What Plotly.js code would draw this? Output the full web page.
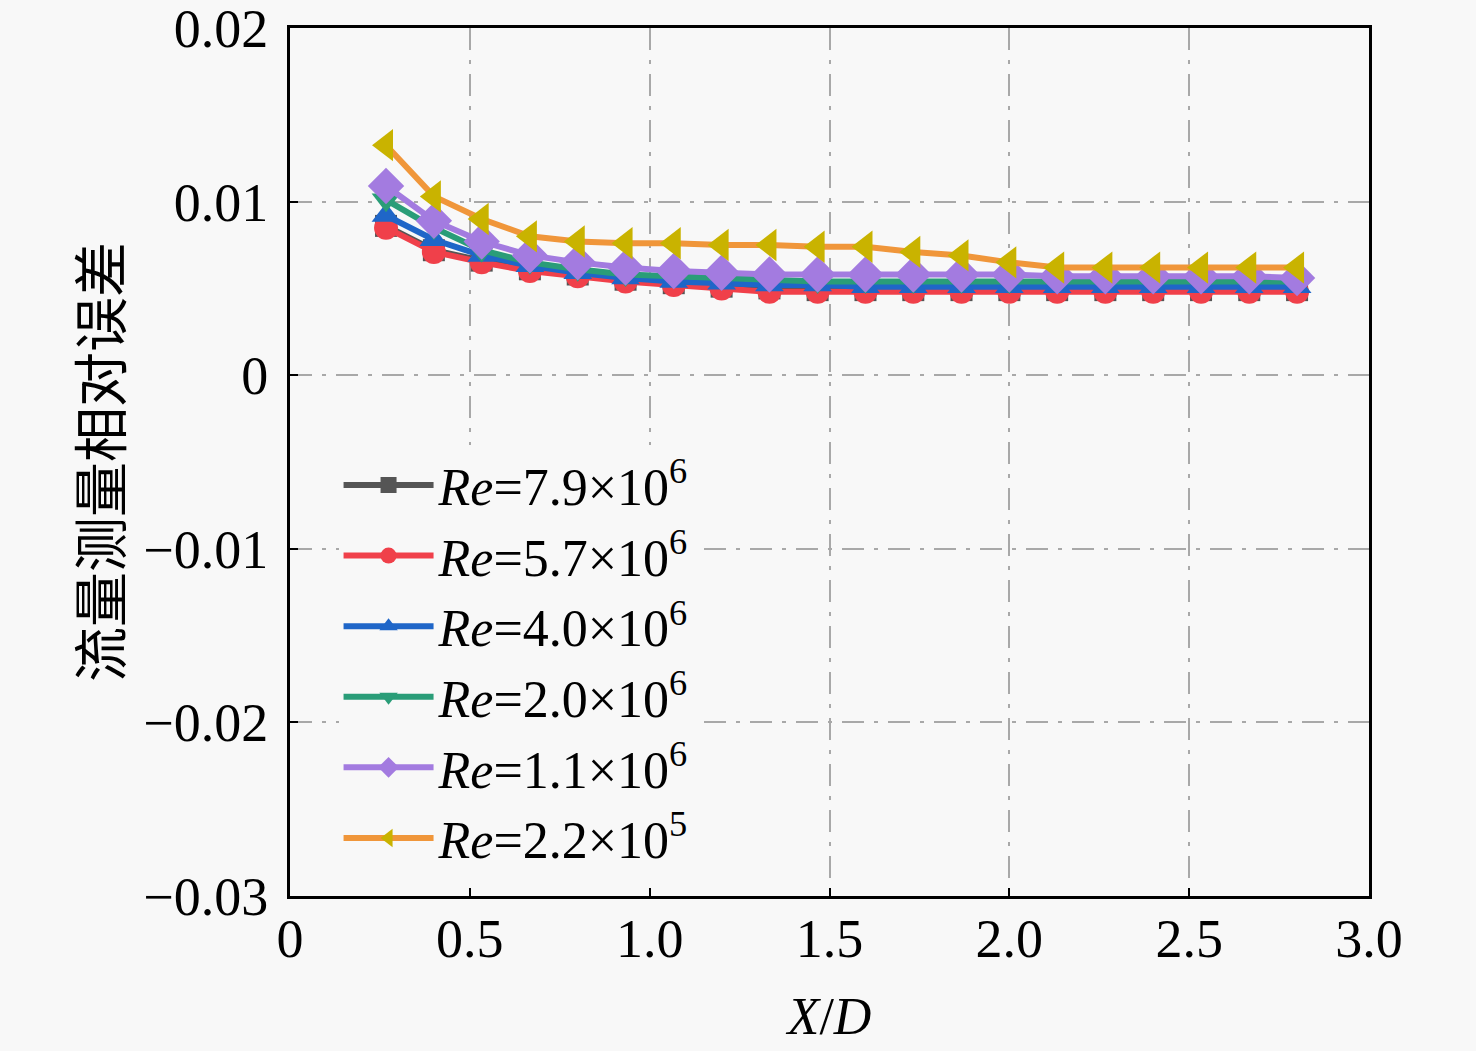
<!DOCTYPE html>
<html>
<head>
<meta charset="utf-8">
<script src="https://cdn.plot.ly/plotly-3.0.1.min.js"></script>
<style>body{margin:0;background:#f8f8f8;} #chart{width:1476px;height:1051px;}</style>
</head>
<body>
<div id="chart"></div>
<script>
// X/D positions of the measurement points
var xd = [0.267, 0.4, 0.533, 0.667, 0.8, 0.933, 1.067, 1.2, 1.333, 1.467,
          1.6, 1.733, 1.867, 2.0, 2.133, 2.267, 2.4, 2.533, 2.667, 2.8];

var re79 = [0.0086, 0.0072, 0.0066, 0.0061, 0.0058, 0.0055, 0.0053, 0.0051, 0.0050, 0.0049,
            0.0049, 0.0049, 0.0049, 0.0049, 0.0049, 0.0049, 0.0049, 0.0049, 0.0049, 0.0049];
var re57 = [0.0085, 0.0071, 0.0065, 0.0060, 0.0057, 0.0054, 0.0052, 0.0050, 0.0048, 0.0048,
            0.0048, 0.0048, 0.0048, 0.0048, 0.0048, 0.0048, 0.0048, 0.0048, 0.0048, 0.0048];
var re40 = [0.0092, 0.0078, 0.0069, 0.0063, 0.0059, 0.0056, 0.0054, 0.0053, 0.0052, 0.0052,
            0.0051, 0.0051, 0.0051, 0.0051, 0.0051, 0.0051, 0.0051, 0.0051, 0.0051, 0.0051];
var re20 = [0.0101, 0.0085, 0.0072, 0.0065, 0.0061, 0.0058, 0.0057, 0.0056, 0.0055, 0.0054,
            0.0054, 0.0054, 0.0054, 0.0054, 0.0054, 0.0054, 0.0054, 0.0054, 0.0054, 0.0054];
var re11 = [0.0109, 0.0089, 0.0077, 0.0069, 0.0065, 0.0062, 0.0060, 0.0059, 0.0058, 0.0058,
            0.0058, 0.0058, 0.0058, 0.0058, 0.0057, 0.0057, 0.0057, 0.0057, 0.0057, 0.0056];
var re22 = [0.01325, 0.0103, 0.0090, 0.0080, 0.0077, 0.0076, 0.0076, 0.0075, 0.0075, 0.0074,
            0.0074, 0.0071, 0.0069, 0.0065, 0.0062, 0.0062, 0.0062, 0.0062, 0.0062, 0.0062];

var names = ['<i>Re</i>=7.9×10<sup>6</sup>', '<i>Re</i>=5.7×10<sup>6</sup>', '<i>Re</i>=4.0×10<sup>6</sup>',
             '<i>Re</i>=2.0×10<sup>6</sup>', '<i>Re</i>=1.1×10<sup>6</sup>', '<i>Re</i>=2.2×10<sup>5</sup>'];

var xTicks = [0, 0.5, 1.0, 1.5, 2.0, 2.5, 3.0];
var xTickText = ['0', '0.5', '1.0', '1.5', '2.0', '2.5', '3.0'];
var yTicks = [-0.03, -0.02, -0.01, 0, 0.01, 0.02];
var yTickText = ['\u22120.03', '\u22120.02', '\u22120.01', '0', '0.01', '0.02'];

var series = [re79, re57, re40, re20, re11, re22];
var lineCols = ['#555555', '#f0404a', '#1f66c8', '#2a9d78', '#a37be0', '#f0963a'];
var markCols = ['#555555', '#f0404a', '#1f66c8', '#2a9d78', '#a37be0', '#c9b300'];
var symbols = ['square', 'circle', 'triangle-up', 'triangle-down', 'diamond', 'triangle-left'];
var sizes = [22, 24, 25, 25, 28, 28];

var data = series.map(function(ys, i){
  return {
    x: xd, y: ys, name: names[i],
    type: 'scatter', mode: 'lines+markers',
    line: {color: lineCols[i], width: 6},
    marker: {color: markCols[i], symbol: symbols[i], size: sizes[i]}
  };
});

var serif = '"Liberation Serif", "Times New Roman", serif';
var gridDash = '22px,10px,4px,10px';

var layout = {
  width: 1476, height: 1051,
  paper_bgcolor: '#f8f8f8', plot_bgcolor: '#f8f8f8',
  font: {family: serif, size: 54, color: '#000'},
  margin: {l: 290, r: 107, t: 28, b: 155, pad: 0},
  showlegend: true,
  legend: {
    x: 0.045, y: 0.52, xanchor: 'left', yanchor: 'top',
    bgcolor: '#f8f8f8', borderwidth: 0,
    font: {family: serif, size: 52, color: '#000'},
    itemwidth: 90
  },
  xaxis: {
    range: [0, 3.0], tickvals: xTicks, ticktext: xTickText,
    ticks: 'inside', ticklen: 8, tickwidth: 2, tickcolor: '#000',
    showline: true, linecolor: '#000', linewidth: 3, mirror: true,
    showgrid: true, gridcolor: '#a8a8a8', gridwidth: 2, griddash: gridDash,
    zeroline: false,
    tickfont: {family: serif, size: 54},
    ticklabelstandoff: -7,
    title: {text: '<i>X</i>/<i>D</i>', font: {family: serif, size: 52}, standoff: 30}
  },
  yaxis: {
    range: [-0.03, 0.02], tickvals: yTicks, ticktext: yTickText,
    ticks: 'inside', ticklen: 8, tickwidth: 2, tickcolor: '#000',
    showline: true, linecolor: '#000', linewidth: 3, mirror: true,
    showgrid: true, gridcolor: '#a8a8a8', gridwidth: 2, griddash: gridDash,
    zeroline: false,
    tickfont: {family: serif, size: 54},
    ticklabelstandoff: 8,
    ticklabeloverflow: 'allow',
    title: {text: '流量测量相对误差', font: {family: '"Noto Sans CJK SC", sans-serif', size: 55}, standoff: 4}
  }
};

Plotly.newPlot('chart', data, layout, {displayModeBar: false, staticPlot: true});
</script>
</body>
</html>
